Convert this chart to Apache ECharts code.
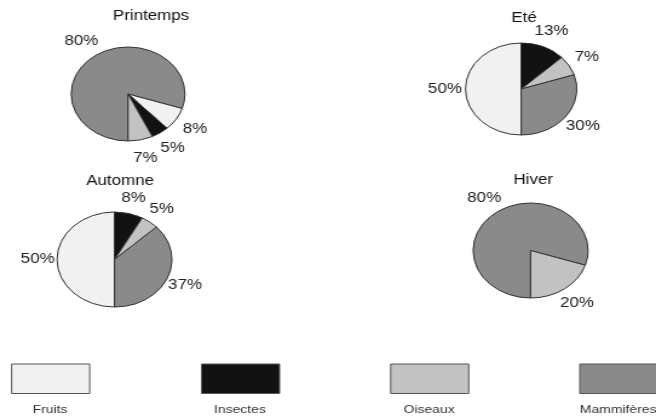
<!DOCTYPE html>
<html>
<head>
<meta charset="utf-8">
<script src="https://cdn.jsdelivr.net/npm/echarts@6/dist/echarts.min.js"></script>
<style>
html,body{margin:0;padding:0;background:#fff;overflow:hidden;}
#chart{width:542px;height:418px;transform:scaleX(1.2103);transform-origin:0 0;}
</style>
</head>
<body>
<div id="chart"></div>
<script>
// ---- data ----
const categories = ['Fruits', 'Insectes', 'Oiseaux', 'Mammifères'];
const seasons = ['Printemps', 'Eté', 'Automne', 'Hiver'];
const printempsValues = [8, 5, 7, 80];
const eteValues = [50, 13, 7, 30];
const automneValues = [50, 8, 5, 37];
const hiverValues = [0, 0, 20, 80];

// ---- styles / layout ----
const colors = { 'Fruits': '#f1f1f1', 'Insectes': '#121212', 'Oiseaux': '#c2c2c2', 'Mammifères': '#8a8a8a' };
const FONT = 'Liberation Sans, Arial, Helvetica, sans-serif';
// labelOut: how far beyond the pie edge the centre of each % label sits
const pies = [
  { title: seasons[0], values: printempsValues, order: [3, 0, 1, 2], center: [105.8, 94], r: 47, labelOut: 18.5, titleX: 124.8, titleY: 9.5 },
  { title: seasons[1], values: eteValues, order: [0, 1, 2, 3], center: [430.6, 89], r: 46, labelOut: 17, titleX: 433, titleY: 11 },
  { title: seasons[2], values: automneValues, order: [0, 1, 2, 3], center: [94.6, 259.5], r: 47.5, labelOut: 16, titleX: 99.2, titleY: 174.5 },
  { title: seasons[3], values: hiverValues, order: [3, 0, 1, 2], center: [438.4, 250.5], r: 47.5, labelOut: 17.7, titleX: 440.5, titleY: 173 }
];
const legendBoxes = [9.1, 166, 322.3, 478.5];
const legendBoxW = 64.5, legendTop = 363.5, legendH = 29.5;

const chart = echarts.init(document.getElementById('chart'));

function sliceData(p, styled) {
  return p.order
    .filter(i => p.values[i] > 0)
    .map(i => ({
      name: categories[i], value: p.values[i],
      itemStyle: styled ? { color: colors[categories[i]] } : { color: 'rgba(0,0,0,0)', borderWidth: 0 }
    }));
}

const pieSeries = pies.map(p => ({
  type: 'pie',
  name: p.title,
  center: p.center,
  radius: [0, p.r],
  startAngle: -90,
  clockwise: true,
  emphasis: { scale: false },
  itemStyle: { borderColor: '#333', borderWidth: 1 },
  label: { show: false },
  labelLine: { show: false },
  data: sliceData(p, true)
}));

// invisible ring around each pie; its 'inside' labels sit at (r + r0)/2 + 3 along each slice's mid-angle
const labelSeries = pies.map(p => ({
  type: 'pie',
  name: p.title + ' %',
  center: p.center,
  radius: [p.r, p.r + 2 * (p.labelOut - 3)],
  startAngle: -90,
  clockwise: true,
  silent: true,
  legendHoverLink: false,
  emphasis: { disabled: true },
  tooltip: { show: false },
  label: {
    show: true, position: 'inside', formatter: '{c}%',
    fontFamily: FONT, fontSize: 14, color: '#222'
  },
  labelLine: { show: false },
  data: sliceData(p, false)
}));

const titles = pies.map(p => ({
  text: p.title, left: p.titleX, top: p.titleY, textAlign: 'center', padding: 0,
  textStyle: { fontFamily: FONT, fontSize: 14, fontWeight: 'normal', color: '#111' }
}));

const legends = categories.map((c, i) => ({
  data: [c], left: legendBoxes[i], top: legendTop, padding: 0,
  icon: 'rect', itemWidth: legendBoxW, itemHeight: legendH,
  itemStyle: { color: colors[c], borderColor: '#555', borderWidth: 1 },
  formatter: () => '', selectedMode: false
}));

const legendTexts = categories.map((c, i) => ({
  type: 'text',
  x: legendBoxes[i] + legendBoxW / 2, y: 410,
  style: { text: c, fill: '#333', font: '11.5px ' + FONT, textAlign: 'center', textVerticalAlign: 'middle' }
}));

chart.setOption({
  animation: false,
  backgroundColor: '#fff',
  title: titles,
  legend: legends,
  graphic: legendTexts,
  series: pieSeries.concat(labelSeries)
});
</script>
</body>
</html>
